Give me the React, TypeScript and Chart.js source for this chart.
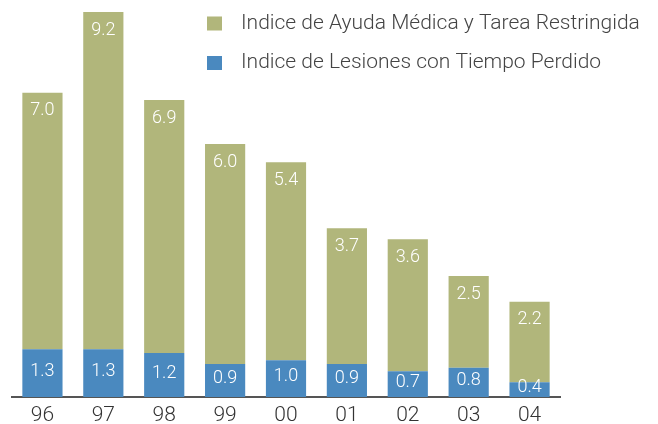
import React, { useEffect, useRef } from "react";
import { Chart, registerables } from "chart.js";

Chart.register(...registerables);

const categories = ["96", "97", "98", "99", "00", "01", "02", "03", "04"];
const lostTime = [1.3, 1.3, 1.2, 0.9, 1.0, 0.9, 0.7, 0.8, 0.4];
const medicalAid = [7.0, 9.2, 6.9, 6.0, 5.4, 3.7, 3.6, 2.5, 2.2];
const legendLabels = [
  "Indice de Ayuda Médica y Tarea Restringida",
  "Indice de Lesiones con Tiempo Perdido",
];

const GREEN = "#b1b67b";
const BLUE = "#4a89bf";
const FONT = "Roboto";

const overlay = {
  id: "overlay",
  afterDatasetsDraw(chart: any) {
    const ctx = chart.ctx;
    ctx.save();
    ctx.fillStyle = "#ffffff";
    ctx.font = `300 18px ${FONT}`;
    ctx.textAlign = "center";
    ctx.textBaseline = "middle";
    const m0 = chart.getDatasetMeta(0);
    const m1 = chart.getDatasetMeta(1);
    m0.data.forEach((bar: any, i: number) => {
      const c = (bar.y + bar.base) / 2 - 2;
      ctx.fillText(lostTime[i].toFixed(1), bar.x, c);
    });
    m1.data.forEach((bar: any, i: number) => {
      ctx.fillText(medicalAid[i].toFixed(1), bar.x, bar.y + 18);
    });
    // legend
    const items = [
      { color: GREEN, text: legendLabels[0], y: 23.5 },
      { color: BLUE, text: legendLabels[1], y: 63 },
    ];
    ctx.textAlign = "left";
    ctx.font = `300 21px ${FONT}`;
    items.forEach((it) => {
      ctx.fillStyle = it.color;
      ctx.fillRect(207, it.y - 7, 15, 14);
      ctx.fillStyle = "#444444";
      ctx.fillText(it.text, 241, it.y);
    });
    ctx.restore();
  },
};

export default function App() {
  const ref = useRef<HTMLCanvasElement>(null);
  useEffect(() => {
    document.body.style.margin = "0";
    const chart = new Chart(ref.current!, {
      type: "bar",
      data: {
        labels: categories,
        datasets: [
          {
            label: legendLabels[1],
            data: lostTime,
            backgroundColor: BLUE,
            barPercentage: 0.66,
            categoryPercentage: 1,
          },
          {
            label: legendLabels[0],
            data: medicalAid,
            backgroundColor: GREEN,
            barPercentage: 0.66,
            categoryPercentage: 1,
          },
        ],
      },
      options: {
        animation: false,
        responsive: false,
        layout: { padding: { left: 12, right: 98, top: 12, bottom: -2 } },
        plugins: { legend: { display: false }, tooltip: { enabled: false } },
        scales: {
          x: {
            stacked: true,
            grid: { display: false },
            border: { display: true, color: "#555555", width: 2 },
            ticks: {
              color: "#333333",
              font: { family: FONT, size: 21, weight: 300, lineHeight: 1 },
              padding: 0,
            },
          },
          y: {
            stacked: true,
            display: false,
            min: 0,
            max: 10.5,
          },
        },
      },
      plugins: [overlay],
    });
    return () => chart.destroy();
  }, []);
  return (
    <div style={{ position: "absolute", left: 0, top: 0, width: 658, height: 424 }}>
      <canvas ref={ref} width={658} height={424} />
    </div>
  );
}
